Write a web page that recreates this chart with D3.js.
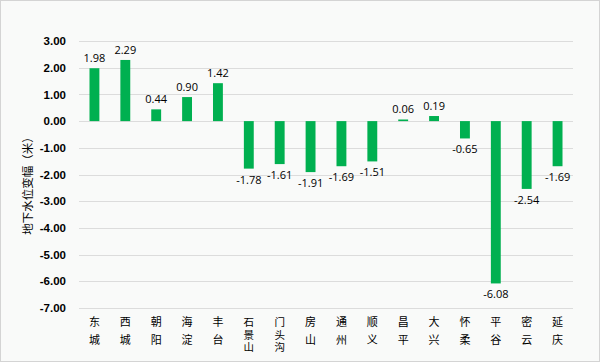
<!DOCTYPE html>
<html>
<head>
<meta charset="utf-8">
<script src="https://cdn.jsdelivr.net/npm/d3@7"></script>
<style>
  body { margin: 0; background: #fff; }
  svg { display: block; }
</style>
</head>
<body>
<div id="chart"></div>
<script>
var districts = ["东城", "西城", "朝阳", "海淀", "丰台", "石景山", "门头沟", "房山", "通州", "顺义", "昌平", "大兴", "怀柔", "平谷", "密云", "延庆"];
var changes = [1.98, 2.29, 0.44, 0.90, 1.42, -1.78, -1.61, -1.91, -1.69, -1.51, 0.06, 0.19, -0.65, -6.08, -2.54, -1.69];
var yTicks = [3, 2, 1, 0, -1, -2, -3, -4, -5, -6, -7];
var yTitle = "地下水位变幅（米）";

var W = 600, H = 362;
var svg = d3.select("#chart").append("svg")
    .attr("width", W).attr("height", H);

// ハイフンのマイナス
var fmt = d3.formatLocale({decimal: ".", thousands: ",", grouping: [3], currency: ["", ""], minus: "-"}).format(".2f");

// 背景と枠
svg.append("rect")
    .attr("x", 0.5).attr("y", 0.5)
    .attr("width", W - 1).attr("height", H - 1)
    .style("fill", "#f9faf9")
    .style("stroke", "#d4d4d4");

var x = d3.scaleBand()
    .domain(districts)
    .range([79, 573])
    .paddingInner(0.68)
    .paddingOuter(0.34);

var y = d3.scaleLinear()
    .domain([-7, 3])
    .range([308, 41]);

// grid lines
svg.append("g").selectAll("line")
    .data(yTicks)
    .enter().append("line")
    .attr("x1", 79).attr("x2", 573)
    .attr("y1", function (d) { return Math.round(y(d)) + 0.5; })
    .attr("y2", function (d) { return Math.round(y(d)) + 0.5; })
    .style("stroke", "#dcdcdc")
    .style("stroke-width", 1);

// y axis labels
var yAxis = d3.axisLeft(y)
    .tickValues(yTicks)
    .tickSize(0)
    .tickPadding(0)
    .tickFormat(fmt);
var yg = svg.append("g")
    .attr("transform", "translate(66,0)")
    .call(yAxis);
yg.select(".domain").remove();
yg.selectAll("text")
    .style("font-family", "'Liberation Sans', Arial, sans-serif")
    .style("font-size", "11.5px")
    .style("font-weight", "bold")
    .style("fill", "#000");

// y title
svg.append("text")
    .attr("transform", "translate(32,183) rotate(-90)")
    .attr("text-anchor", "middle")
    .style("font-family", "'Noto Sans CJK SC', sans-serif")
    .style("font-size", "11.5px")
    .style("fill", "#000")
    .text(yTitle);

// bars
svg.append("g").selectAll("rect")
    .data(changes)
    .enter().append("rect")
    .attr("x", function (d, i) { return x(districts[i]); })
    .attr("y", function (d) { return y(Math.max(0, d)); })
    .attr("width", x.bandwidth())
    .attr("height", function (d) { return Math.abs(y(d) - y(0)); })
    .style("fill", "#00b050");

// value labels
svg.append("g").selectAll("text")
    .data(changes)
    .enter().append("text")
    .attr("x", function (d, i) { return x(districts[i]) + x.bandwidth() / 2; })
    .attr("y", function (d) { return d >= 0 ? y(d) - 6 : y(d) + 15; })
    .attr("text-anchor", "middle")
    .style("font-family", "'Open Sans', sans-serif")
    .style("font-size", "11px")
    .style("fill", "#000")
    .text(function (d) { return fmt(d); });

// x labels, 縦書き
var xl = svg.append("g").selectAll("text")
    .data(districts)
    .enter().append("text")
    .attr("x", function (d) { return x(d) + x.bandwidth() / 2; })
    .attr("y", 326)
    .attr("text-anchor", "middle")
    .style("font-family", "'Noto Sans CJK SC', sans-serif")
    .style("font-size", function (d) { return d.length > 2 ? "10.5px" : "11px"; })
    .style("fill", "#000");
xl.each(function (d) {
    var t = d3.select(this);
    d.split("").forEach(function (c, k) {
        t.append("tspan")
            .attr("x", t.attr("x"))
            .attr("y", 326 + k * (d.length > 2 ? 12.6 : 18.3))
            .text(c);
    });
});
</script>
</body>
</html>
